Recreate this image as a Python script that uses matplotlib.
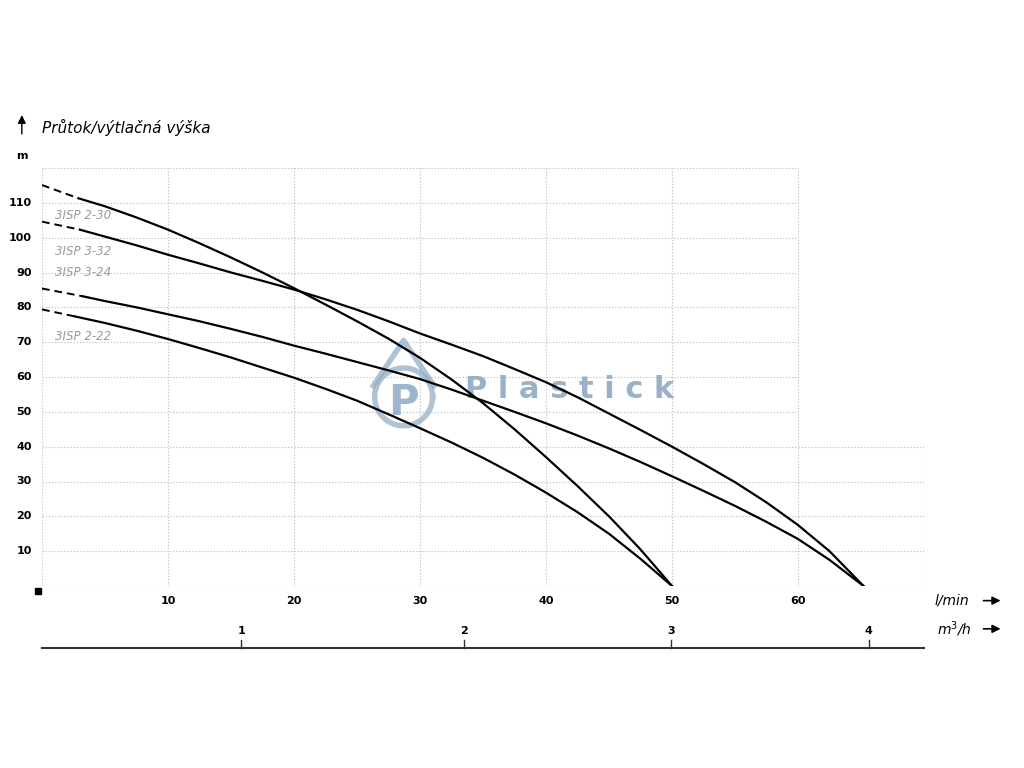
import numpy as np
import matplotlib
matplotlib.use("Agg")
from matplotlib import pyplot as plt

# krivky cerpadel (prutok l/min, vytlacna vyska m)
x_230 = [2.9, 5, 7.5, 10, 12.5, 15, 17.5, 20, 22.5, 25, 27.5, 30, 32.5, 35, 37.5, 40,
         42.5, 45, 47.5, 50]
y_230 = [111.3, 109, 105.8, 102.3, 98.4, 94.3, 90, 85.5, 80.8, 76, 71, 65.5, 59.3, 52.5,
         45, 37, 28.7, 20, 10.5, 0]
x_332 = [3, 5, 7.5, 10, 12.5, 15, 17.5, 20, 22.5, 25, 27.5, 30, 32.5, 35, 37.5, 40, 42.5,
         45, 47.5, 50, 52.5, 55, 57.5, 60, 62.5, 65.2]
y_332 = [102.3, 100.3, 97.8, 95.1, 92.6, 90, 87.6, 85.1, 82.3, 79.3, 76, 72.5, 69.3, 66,
         62.3, 58.5, 54.2, 49.5, 44.8, 40, 35, 29.8, 24, 17.5, 10, 0]
x_324 = [3.2, 5, 7.5, 10, 12.5, 15, 17.5, 20, 22.5, 25, 27.5, 30, 32.5, 35, 37.5, 40, 42.5,
         45, 47.5, 50, 52.5, 55, 57.5, 60, 62.5, 65.2]
y_324 = [83.2, 81.8, 80, 78, 76, 73.8, 71.5, 69, 66.7, 64.3, 61.9, 59.4, 56.4, 53.2, 50,
         46.7, 43.2, 39.5, 35.6, 31.5, 27.3, 23, 18.4, 13.5, 7.5, 0]
x_222 = [2.6, 5, 7.5, 10, 12.5, 15, 17.5, 20, 22.5, 25, 27.5, 30, 32.5, 35, 37.5, 40, 42.5,
         45, 47.5, 50]
y_222 = [77.4, 75.5, 73.3, 70.9, 68.3, 65.6, 62.7, 59.8, 56.6, 53.2, 49.3, 45.3, 41.2,
         36.8, 32, 26.8, 21.2, 15, 7.8, 0]

# carkovane zacatky
dash_x = [[0, 2.9], [0, 3], [0, 3.2], [0, 2.6]]
dash_y = [[115.1, 111.3], [104.6, 102.3], [85.4, 83.2], [79.4, 77.4]]

names = ["3ISP 2-30", "3ISP 3-32", "3ISP 3-24", "3ISP 2-22"]
name_y = [106.5, 96, 90, 71.5]

lmin_ticks = [10, 20, 30, 40, 50, 60]
m3h_pos = [15.8, 33.5, 49.9, 65.6]
m3h_lab = ["1", "2", "3", "4"]
y_ticks = [10, 20, 30, 40, 50, 60, 70, 80, 90, 100, 110]

fig = plt.figure(figsize=(10.24, 7.68), dpi=100)
ax = fig.add_axes([42/1024, 1-586/768, 882/1024, 418/768])
ax.set_xlim(0, 70)
ax.set_ylim(0, 120)
ax.axis("off")

gc = "#c4c4c4"
dots = (0, (1.2, 1.6))
# mrizka
for yy in range(0, 130, 10):
    ax.plot([0, 60], [yy, yy], color=gc, lw=0.8, ls=dots, zorder=1)
for yy in range(0, 50, 10):
    ax.plot([60, 70], [yy, yy], color=gc, lw=0.8, ls=dots, zorder=1)
for xx in range(0, 70, 10):
    ax.plot([xx, xx], [0, 120], color=gc, lw=0.8, ls=dots, zorder=1)
ax.plot([70, 70], [0, 40], color=gc, lw=0.8, ls=dots, zorder=1)

# vodoznak (logo + text)
wm = "#8eaac4"
t = np.linspace(0, 2*np.pi, 200)
ax.plot(28.7 + 2.3*np.cos(t), 54.3 + 8.3*np.sin(t), color=wm, lw=4, alpha=0.7, zorder=2)
ax.plot([26.3, 28.7, 31.1], [57.5, 70.5, 57.5], color=wm, lw=4, alpha=0.7, zorder=2)
ax.text(28.7, 52.5, "P", color="#7f9cbb", fontsize=30, fontweight="bold",
        ha="center", va="center", alpha=0.75, zorder=2)
ax.text(41.9, 56.5, "P l a s t i c k", color=wm, fontsize=22, fontweight="bold",
        ha="center", va="center", alpha=0.9, zorder=2)

xs = [x_230, x_332, x_324, x_222]
ys = [y_230, y_332, y_324, y_222]
for i in range(4):
    ax.plot(xs[i], ys[i], color="black", lw=1.6, zorder=3, solid_joinstyle="round")
    ax.plot(dash_x[i], dash_y[i], color="black", lw=1.4, ls=(0, (4, 2.5)), zorder=3)
    ax.text(1.0, name_y[i], names[i], color="#9a9a9a", fontsize=8.5, style="italic",
            va="center", ha="left", zorder=4)

# popisky os
for tk in y_ticks:
    ax.text(-0.8, tk, str(tk), ha="right", va="center", fontsize=8, fontweight="bold",
            clip_on=False)
for tk in lmin_ticks:
    ax.text(tk, -4.2, str(tk), ha="center", va="center", fontsize=8, fontweight="bold",
            clip_on=False)

ax.text(-1.6, 123.5, "m", ha="center", va="center", fontsize=8, fontweight="bold")
ax.annotate("", xy=(-1.6, 136), xytext=(-1.6, 129),
            arrowprops=dict(arrowstyle="-|>", color="black", lw=1.0, mutation_scale=12),
            annotation_clip=False)
ax.text(0, 131.5, "Průtok/výtlačná výška", fontsize=11, style="italic",
        ha="left", va="center")
ax.plot([-0.35], [-1.5], marker="s", color="black", markersize=5, clip_on=False)

# druha osa m3/h
ax.plot([0, 70], [-17.7, -17.7], color="#333333", lw=1.5, clip_on=False)
for p, lab in zip(m3h_pos, m3h_lab):
    ax.plot([p, p], [-17.7, -15.6], color="#333333", lw=1.0, clip_on=False)
    ax.text(p, -12.9, lab, ha="center", va="center", fontsize=8, fontweight="bold",
            clip_on=False)

ax.text(72.2, -4.2, "l/min", fontsize=10, style="italic", ha="center", va="center")
ax.text(72.4, -12.3, "m$^3$/h", fontsize=10, style="italic", ha="center", va="center")
for yy in [-4.2, -12.3]:
    ax.annotate("", xy=(76.3, yy), xytext=(74.5, yy),
                arrowprops=dict(arrowstyle="-|>", color="black", lw=1.2, mutation_scale=12),
                annotation_clip=False)

fig.savefig("out.png", dpi=100)
